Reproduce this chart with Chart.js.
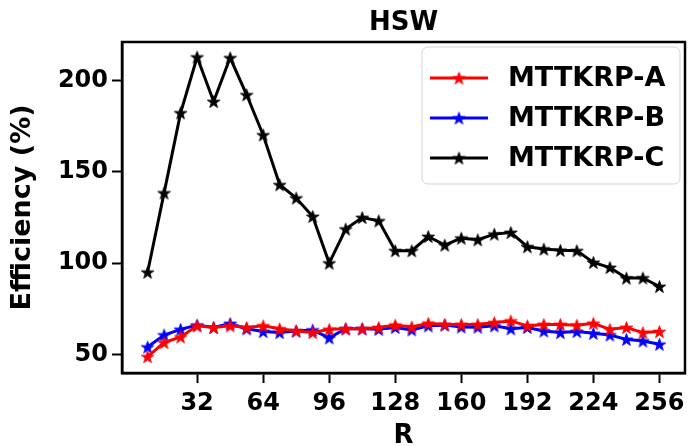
<!DOCTYPE html>
<html>
<head>
<meta charset="utf-8">
<script src="https://cdn.jsdelivr.net/npm/chart.js@4/dist/chart.umd.min.js"></script>
<style>
  html, body { margin: 0; padding: 0; background: #fff; }
  #chart { display: block; }
</style>
</head>
<body>
<canvas id="chart" width="694" height="446"></canvas>
<script>
// ---------------------------------- { Data }
const rValues = [8, 16, 24, 32, 40, 48, 56, 64, 72, 80, 88, 96, 104, 112, 120, 128,
  136, 144, 152, 160, 168, 176, 184, 192, 200, 208, 216, 224, 232, 240, 248, 256];
const effA = [48.7, 56.4, 59.5, 65.6, 64.7, 65.6, 64.7, 65.6, 64, 62.8, 61.9, 63.7, 64, 64, 64.7, 66,
  65, 67, 66.4, 66.4, 66.4, 67.4, 68.3, 65.6, 66.4, 66.4, 66, 67, 63.7, 64.7, 61.9, 62.5];
const effB = [54, 60.6, 63.7, 66, 64.7, 66.9, 64, 62.5, 61.9, 62.8, 63.3, 59, 64, 64, 63.7, 64.7,
  63.4, 65.6, 66, 65, 64.9, 65.6, 64, 64.7, 62.8, 61.9, 62.5, 61.5, 60.6, 58.2, 57.3, 55.5];
const effC = [95, 138.5, 182.4, 213, 188.6, 212.6, 192.3, 170.3, 143, 135.7, 125.6, 100, 118.7, 125, 123.2, 106.8,
  106.8, 114.6, 109.9, 113.7, 112.8, 115.9, 116.8, 109, 107.7, 107, 106.8, 100.4, 97.6, 91.8, 91.9, 87.2];
const xTicks = [32, 64, 96, 128, 160, 192, 224, 256];
const yTicks = [50, 100, 150, 200];
const seriesNames = ["MTTKRP-A", "MTTKRP-B", "MTTKRP-C"];
const seriesColors = ["#ff0000", "#0000ff", "#000000"];

const FONT = "'DejaVu Sans', sans-serif";

// Filled 5 point star like matplotlib "*" -------- { Marker }
function makeStar(color, r) {
  const c = document.createElement("canvas");
  const size = Math.ceil(r * 2 + 4);
  c.width = size;
  c.height = size;
  const g = c.getContext("2d");
  const cx = size / 2, cy = size / 2 + r * 0.1;
  const inner = r * 0.382;
  g.beginPath();
  for (let i = 0; i < 10; i++) {
    const rad = i % 2 === 0 ? r : inner;
    const a = -Math.PI / 2 + (i * Math.PI) / 5;
    const px = cx + rad * Math.cos(a);
    const py = cy + rad * Math.sin(a);
    if (i === 0) g.moveTo(px, py);
    else g.lineTo(px, py);
  }
  g.closePath();
  g.fillStyle = color;
  g.fill();
  g.lineWidth = 1;
  g.strokeStyle = color;
  g.stroke();
  return c;
}

const stars = seriesColors.map((c) => makeStar(c, 6.5));

function toPoints(ys) {
  return rValues.map((x, i) => ({ x: x, y: ys[i] }));
}

// Frame, titles and legend ---------------------------------- { Decorations }
const decorations = {
  id: "decorations",
  afterDraw(chart) {
    const ctx = chart.ctx;
    const a = chart.chartArea;
    ctx.save();

    // spines
    ctx.strokeStyle = "#000";
    ctx.lineWidth = 2.5;
    ctx.strokeRect(a.left, a.top, a.right - a.left, a.bottom - a.top);

    // title
    ctx.fillStyle = "#000";
    ctx.font = "bold 26px " + FONT;
    ctx.textAlign = "center";
    ctx.textBaseline = "middle";
    ctx.fillText("HSW", (a.left + a.right) / 2, 23);

    // x title
    ctx.font = "bold 26px " + FONT;
    ctx.fillText("R", (a.left + a.right) / 2, 436);

    // y title
    ctx.save();
    ctx.translate(23, (a.top + a.bottom) / 2);
    ctx.rotate(-Math.PI / 2);
    ctx.font = "bold 27px " + FONT;
    ctx.fillText("Efficiency (%)", 0, 0);
    ctx.restore();

    // legend box
    const bx = 422, by = 47, bw = 258, bh = 137, br = 6;
    ctx.beginPath();
    ctx.roundRect(bx, by, bw, bh, br);
    ctx.fillStyle = "rgba(255,255,255,0.8)";
    ctx.fill();
    ctx.lineWidth = 1;
    ctx.strokeStyle = "#d3d3d3";
    ctx.stroke();

    ctx.font = "bold 27px " + FONT;
    ctx.textAlign = "left";
    seriesNames.forEach((name, i) => {
      const y = 78 + i * 40;
      ctx.strokeStyle = seriesColors[i];
      ctx.lineWidth = 3;
      ctx.beginPath();
      ctx.moveTo(430, y);
      ctx.lineTo(488, y);
      ctx.stroke();
      const s = stars[i];
      ctx.drawImage(s, 459 - s.width / 2, y - s.height / 2);
      ctx.fillStyle = "#000";
      ctx.fillText(name, 508, y + 1);
    });

    ctx.restore();
  },
};

const tickFont = { family: FONT, size: 24, weight: "bold" };

const ctx = document.getElementById("chart").getContext("2d");
const myChart = new Chart(ctx, {
  type: "line",
  data: {
    datasets: [effA, effB, effC].map((ys, i) => ({
      label: seriesNames[i],
      data: toPoints(ys),
      borderColor: seriesColors[i],
      backgroundColor: seriesColors[i],
      borderWidth: 3,
      pointStyle: stars[i],
      pointRadius: 6,
      tension: 0,
      fill: false,
    })),
  },
  options: {
    responsive: false,
    animation: false,
    devicePixelRatio: 1,
    layout: { padding: { top: 42, right: 2, left: 0, bottom: 0 } },
    scales: {
      x: {
        type: "linear",
        min: -4.4,
        max: 268.4,
        afterBuildTicks: (scale) => {
          scale.ticks = xTicks.map((v) => ({ value: v }));
        },
        afterFit: (scale) => {
          scale.height = 73;
        },
        grid: {
          drawOnChartArea: false,
          drawTicks: true,
          tickLength: 10,
          tickWidth: 2,
          tickColor: "#000",
        },
        border: { display: true, color: "#000", width: 2.5 },
        ticks: {
          font: tickFont,
          color: "#000",
          padding: 6,
          maxRotation: 0,
          autoSkip: false,
        },
      },
      y: {
        type: "linear",
        min: 39.75,
        max: 221.25,
        afterBuildTicks: (scale) => {
          scale.ticks = yTicks.map((v) => ({ value: v }));
        },
        afterFit: (scale) => {
          scale.width = 122;
        },
        grid: {
          drawOnChartArea: false,
          drawTicks: true,
          tickLength: 10,
          tickWidth: 2,
          tickColor: "#000",
        },
        border: { display: true, color: "#000", width: 2.5 },
        ticks: {
          font: tickFont,
          color: "#000",
          padding: 4,
          autoSkip: false,
        },
      },
    },
    plugins: {
      // Remove legend
      legend: { display: false },
      // Remove tooltips
      tooltip: { enabled: false },
      title: { display: false },
    },
  },
  plugins: [decorations],
});
</script>
</body>
</html>
